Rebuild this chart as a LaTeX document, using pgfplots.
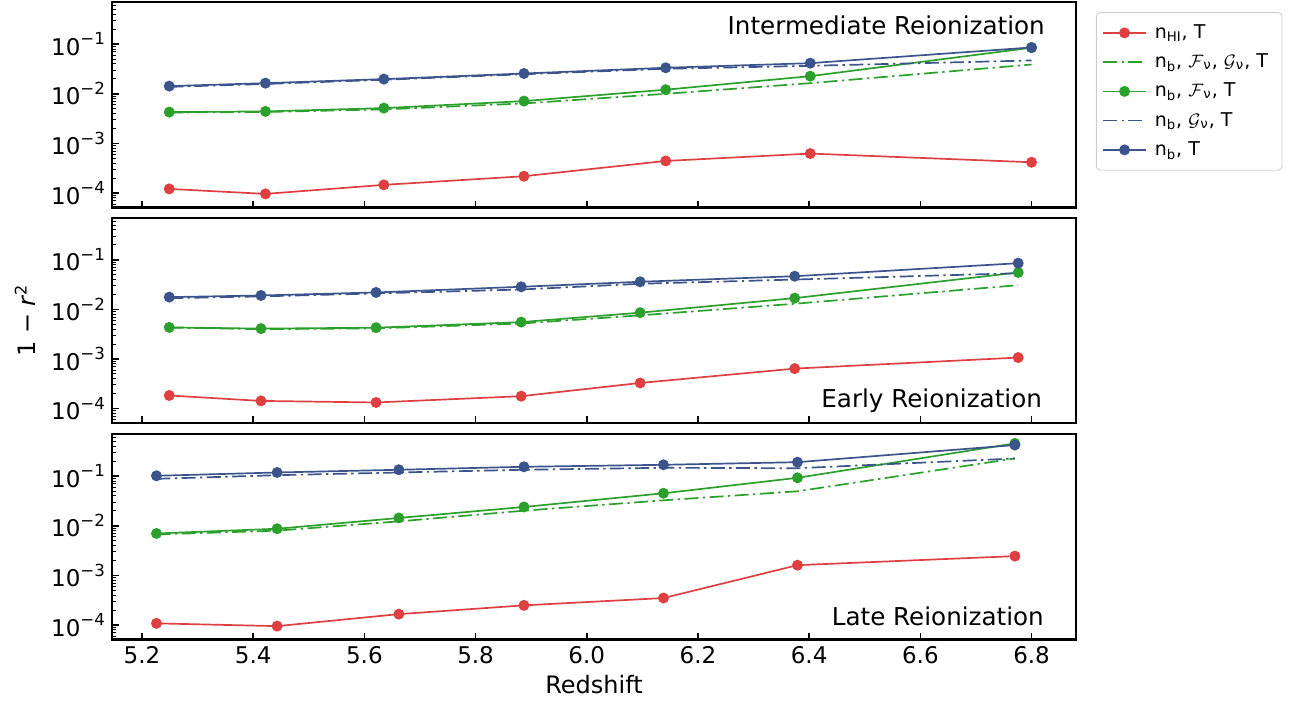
\documentclass[border=0pt]{standalone}
\usepackage{fontspec}
\setmainfont{DejaVu Sans}
\usepackage{pgfplots}
\usepackage{pgfplotstable}
\pgfplotsset{compat=1.18}
\definecolor{cred}{RGB}{222,64,66}
\definecolor{cgreen}{RGB}{44,160,44}
\definecolor{cblue}{RGB}{59,84,140}
\newcommand{\tlab}[1]{10\raisebox{0.45em}{\fontsize{8.3}{9}\selectfont −#1}}

% Intermediate
\pgfplotstableread{
x     red     gdd     g       bdd     b
5.249 1.21e-4 4.20e-3 4.28e-3 1.38e-2 1.43e-2
5.422 9.6e-5  4.30e-3 4.42e-3 1.58e-2 1.64e-2
5.635 1.46e-4 4.85e-3 5.15e-3 1.92e-2 1.98e-2
5.887 2.18e-4 6.40e-3 7.13e-3 2.48e-2 2.57e-2
6.142 4.43e-4 1.00e-2 1.21e-2 3.20e-2 3.35e-2
6.402 6.24e-4 1.64e-2 2.27e-2 3.67e-2 4.15e-2
6.800 4.17e-4 3.90e-2 8.50e-2 4.70e-2 8.60e-2
}\dataI
% Early
\pgfplotstableread{
x     red     gdd     g       bdd     b
5.249 1.84e-4 4.30e-3 4.34e-3 1.68e-2 1.77e-2
5.414 1.43e-4 4.00e-3 4.10e-3 1.83e-2 1.91e-2
5.621 1.33e-4 4.15e-3 4.28e-3 2.10e-2 2.20e-2
5.882 1.78e-4 5.20e-3 5.55e-3 2.52e-2 2.86e-2
6.096 3.29e-4 7.60e-3 8.60e-3 3.29e-2 3.61e-2
6.374 6.41e-4 1.30e-2 1.69e-2 4.00e-2 4.67e-2
6.776 1.07e-3 3.08e-2 5.55e-2 5.37e-2 8.55e-2
}\dataII
% Late
\pgfplotstableread{
x     red     gdd     g       bdd     b
5.226 1.08e-4 6.70e-3 7.01e-3 8.86e-2 1.02e-1
5.443 9.5e-5  8.00e-3 8.73e-3 1.05e-1 1.19e-1
5.662 1.66e-4 1.23e-2 1.44e-2 1.19e-1 1.35e-1
5.887 2.49e-4 2.02e-2 2.40e-2 1.35e-1 1.55e-1
6.138 3.50e-4 3.27e-2 4.53e-2 1.48e-1 1.70e-1
6.379 1.61e-3 4.97e-2 9.29e-2 1.45e-1 1.92e-1
6.770 2.45e-3 2.28e-1 4.59e-1 2.28e-1 4.25e-1
}\dataIII

\pgfplotsset{
  every axis/.append style={
    width=482pt, height=102.75pt, scale only axis,
    xmin=5.146, xmax=6.88, ymode=log, ymin=5.1e-5, ymax=0.71,
    xtick={5.2,5.4,5.6,5.8,6.0,6.2,6.4,6.6,6.8},
    ytick={1e-4,1e-3,1e-2,1e-1},
    yticklabels={\tlab{4},\tlab{3},\tlab{2},\tlab{1}},
    minor ytick={6e-5,7e-5,8e-5,9e-5,2e-4,3e-4,4e-4,5e-4,6e-4,7e-4,8e-4,9e-4,2e-3,3e-3,4e-3,5e-3,6e-3,7e-3,8e-3,9e-3,2e-2,3e-2,4e-2,5e-2,6e-2,7e-2,8e-2,9e-2,2e-1,3e-1,4e-1,5e-1,6e-1,7e-1},
    tick pos=left, tick align=inside,
    major tick length=3.5pt, minor tick length=2pt,
    every major tick/.append style={line width=0.8pt, black},
    every minor tick/.append style={line width=0.5pt, black},
    axis line style={line width=1.1pt},
    ticklabel style={font=\fontsize{11.5}{13}\selectfont},
  },
  legend image code/.code={\draw[mark repeat=2,mark phase=2] plot coordinates {(0cm,0cm) (0.375cm,0cm) (0.75cm,0cm)};},
  sred/.style={color=cred, line width=0.85pt, mark=*, mark size=2.3pt, mark options={solid}},
  sgreen/.style={color=cgreen, line width=0.85pt, mark=*, mark size=2.3pt, mark options={solid}},
  sblue/.style={color=cblue, line width=0.85pt, mark=*, mark size=2.3pt, mark options={solid}},
  dgreen/.style={color=cgreen, line width=0.85pt, no marks, dash pattern=on 7pt off 2.2pt on 1.2pt off 2.2pt},
  dblue/.style={color=cblue, line width=0.85pt, no marks, dash pattern=on 7pt off 2.2pt on 1.2pt off 2.2pt},
}
\tikzset{ptitle/.style={anchor=east, font=\fontsize{12.3}{14}\selectfont, inner sep=0pt}}

\begin{document}
\begin{tikzpicture}
\begin{axis}[at={(0,0)}, anchor=north west, xticklabels={},
  legend style={at={(1.0207,0.951)}, anchor=north west, draw=black!20, rounded corners=2pt,
    font=\fontsize{9.5}{11}\selectfont, row sep=2.2pt, inner xsep=3pt, inner ysep=4pt,
    nodes={inner xsep=4pt}},
  legend cell align=left]
\addplot[sred] table[x=x,y=red] {\dataI};
\addlegendentry{n\textsubscript{HI}, T}
\addplot[dgreen] table[x=x,y=gdd] {\dataI};
\addlegendentry{n\textsubscript{b}, $\mathcal{F}$\textsubscript{ν}, $\mathcal{G}$\textsubscript{ν}, T}
\addplot[sgreen] table[x=x,y=g] {\dataI};
\addlegendentry{n\textsubscript{b}, $\mathcal{F}$\textsubscript{ν}, T}
\addplot[dblue] table[x=x,y=bdd] {\dataI};
\addlegendentry{n\textsubscript{b}, $\mathcal{G}$\textsubscript{ν}, T}
\addplot[sblue] table[x=x,y=b] {\dataI};
\addlegendentry{n\textsubscript{b}, T}
\node[ptitle] at (rel axis cs:0.968,0.888) {Intermediate Reionization};
\end{axis}

\begin{axis}[at={(0,-107.8pt)}, anchor=north west, xticklabels={},
  ylabel={1 − \textit{r}\textsuperscript{2}},
  ylabel style={at={(axis description cs:-0.0902,0.5)}, anchor=center, font=\fontsize{12}{14}\selectfont}]
\addplot[sred] table[x=x,y=red] {\dataII};
\addplot[dgreen] table[x=x,y=gdd] {\dataII};
\addplot[sgreen] table[x=x,y=g] {\dataII};
\addplot[dblue] table[x=x,y=bdd] {\dataII};
\addplot[sblue] table[x=x,y=b] {\dataII};
\node[ptitle] at (rel axis cs:0.965,0.111) {Early Reionization};
\end{axis}

\begin{axis}[at={(0,-216pt)}, anchor=north west,
  xticklabels={5.2,5.4,5.6,5.8,6.0,6.2,6.4,6.6,6.8},
  xlabel={Redshift},
  xlabel style={at={(axis description cs:0.5,-0.219)}, anchor=center, font=\fontsize{12}{14}\selectfont}]
\addplot[sred] table[x=x,y=red] {\dataIII};
\addplot[dgreen] table[x=x,y=gdd] {\dataIII};
\addplot[sgreen] table[x=x,y=g] {\dataIII};
\addplot[dblue] table[x=x,y=bdd] {\dataIII};
\addplot[sblue] table[x=x,y=b] {\dataIII};
\node[ptitle] at (rel axis cs:0.967,0.114) {Late Reionization};
\end{axis}
\pgfresetboundingbox
\path[use as bounding box] (-56pt,1pt) rectangle (590.5pt,-349pt);
\end{tikzpicture}
\end{document}
